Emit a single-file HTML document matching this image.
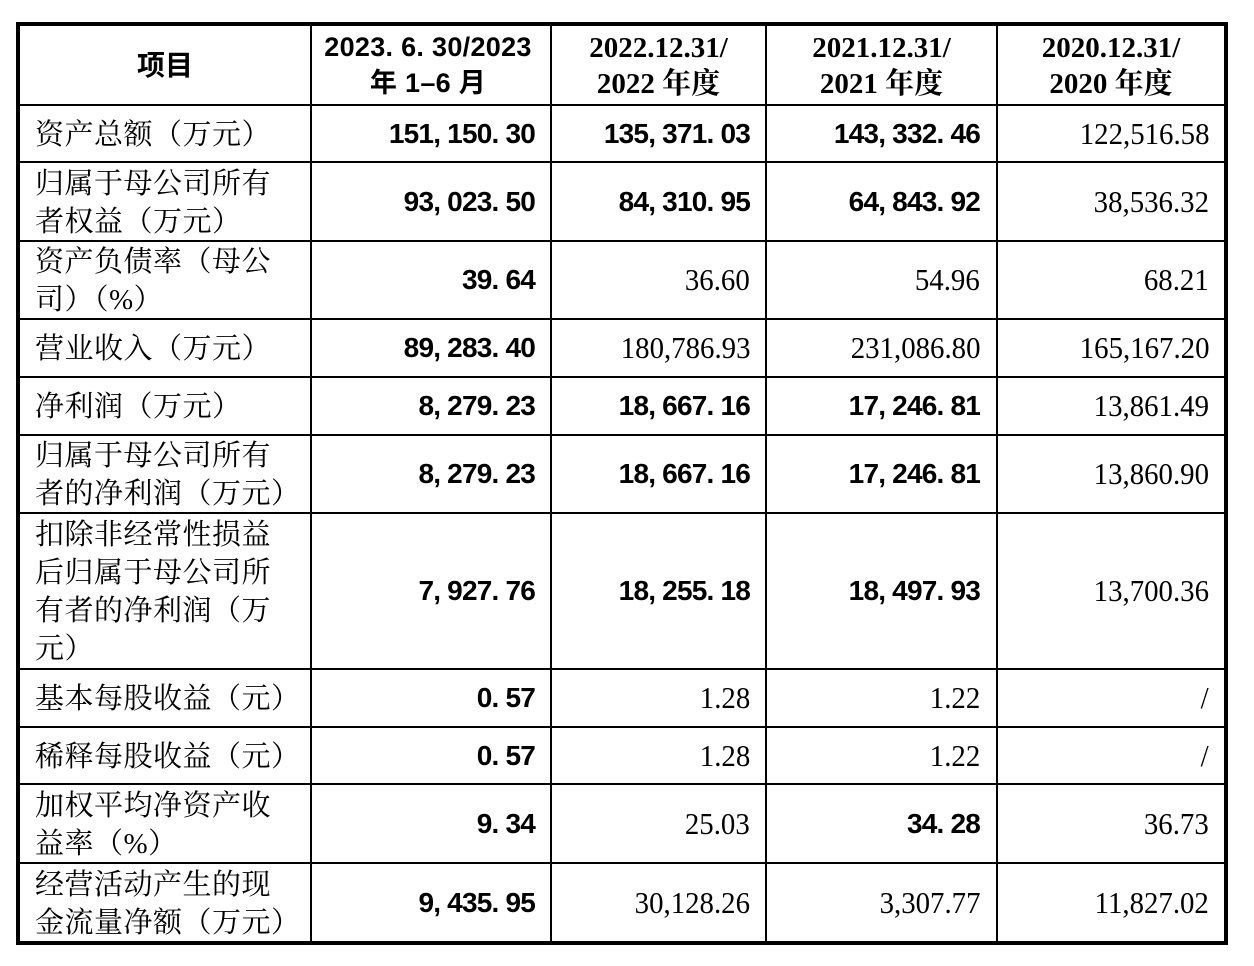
<!DOCTYPE html>
<html><head><meta charset="utf-8">
<style>
html,body{margin:0;padding:0;background:#fff;}
body{width:1254px;height:966px;position:relative;overflow:hidden;}
.ln{position:absolute;background:#000;}
.c{position:absolute;display:flex;align-items:center;box-sizing:border-box;color:#000;}
.lab{font-family:"Liberation Serif","Noto Serif CJK SC",serif;font-size:29px;letter-spacing:0.5px;line-height:38px;padding-left:15px;white-space:nowrap;}
.lab span{position:relative;top:1px;}
.nb{justify-content:flex-end;font-family:"Liberation Sans","Noto Sans CJK SC",sans-serif;font-weight:bold;font-size:28px;letter-spacing:-0.8px;white-space:pre;}
.ns{justify-content:flex-end;font-family:"Liberation Serif","Noto Serif CJK SC",serif;font-size:31px;white-space:pre;}
.ns span{display:inline-block;transform:scaleX(0.93);transform-origin:right center;}
.hd{justify-content:center;text-align:center;font-family:"Liberation Serif","Noto Serif CJK SC",serif;font-weight:bold;font-size:29px;line-height:36px;white-space:nowrap;}
.hs{justify-content:center;text-align:center;font-family:"Liberation Sans","Noto Sans CJK SC",sans-serif;font-weight:bold;font-size:27px;letter-spacing:0.3px;line-height:36px;white-space:pre;}
</style></head><body>

<div style="position:absolute;left:16px;top:22px;width:1212px;height:923px;border:4px solid #000;box-sizing:border-box;"></div>
<div class="ln" style="left:310px;top:24px;width:2px;height:919px;"></div>
<div class="ln" style="left:550px;top:24px;width:2px;height:919px;"></div>
<div class="ln" style="left:765px;top:24px;width:2px;height:919px;"></div>
<div class="ln" style="left:996px;top:24px;width:2px;height:919px;"></div>
<div class="ln" style="left:18px;top:104px;width:1208px;height:2px;"></div>
<div class="ln" style="left:18px;top:161px;width:1208px;height:2px;"></div>
<div class="ln" style="left:18px;top:240px;width:1208px;height:2px;"></div>
<div class="ln" style="left:18px;top:318px;width:1208px;height:2px;"></div>
<div class="ln" style="left:18px;top:376px;width:1208px;height:2px;"></div>
<div class="ln" style="left:18px;top:434px;width:1208px;height:2px;"></div>
<div class="ln" style="left:18px;top:512px;width:1208px;height:2px;"></div>
<div class="ln" style="left:18px;top:668px;width:1208px;height:2px;"></div>
<div class="ln" style="left:18px;top:726px;width:1208px;height:2px;"></div>
<div class="ln" style="left:18px;top:783px;width:1208px;height:2px;"></div>
<div class="ln" style="left:18px;top:862px;width:1208px;height:2px;"></div>

<div class="c" style="left:20px;top:26px;width:290px;height:78px;justify-content:center;font-family:'Noto Sans CJK SC',sans-serif;font-weight:bold;font-size:28px;"><span style="position:relative;top:-1px;">项目</span></div>
<div class="c hs" style="left:312px;top:26px;width:238px;height:78px;"><div style="position:relative;left:-3px;top:0px;">2023. 6. 30/2023<br>年 1–6 月</div></div>
<div class="c hd" style="left:552px;top:26px;width:213px;height:78px;"><div style="position:relative;top:1px;">2022.12.31/<br>2022 年度</div></div>
<div class="c hd" style="left:767px;top:26px;width:229px;height:78px;"><div style="position:relative;top:1px;">2021.12.31/<br>2021 年度</div></div>
<div class="c hd" style="left:998px;top:26px;width:226px;height:78px;"><div style="position:relative;top:1px;">2020.12.31/<br>2020 年度</div></div>

<div class="c lab" style="left:20px;top:106px;width:290px;height:55px;"><span>资产总额（万元）</span></div>
<div class="c nb" style="left:312px;top:106px;width:238px;height:55px;padding-right:15px;">151, 150. 30</div>
<div class="c nb" style="left:552px;top:106px;width:213px;height:55px;padding-right:15px;">135, 371. 03</div>
<div class="c nb" style="left:767px;top:106px;width:229px;height:55px;padding-right:16px;">143, 332. 46</div>
<div class="c ns" style="left:998px;top:106px;width:226px;height:55px;padding-right:15px;"><span>122,516.58</span></div>

<div class="c lab" style="left:20px;top:163px;width:290px;height:77px;"><span>归属于母公司所有<br>者权益（万元）</span></div>
<div class="c nb" style="left:312px;top:163px;width:238px;height:77px;padding-right:15px;">93, 023. 50</div>
<div class="c nb" style="left:552px;top:163px;width:213px;height:77px;padding-right:15px;">84, 310. 95</div>
<div class="c nb" style="left:767px;top:163px;width:229px;height:77px;padding-right:16px;">64, 843. 92</div>
<div class="c ns" style="left:998px;top:163px;width:226px;height:77px;padding-right:15px;"><span>38,536.32</span></div>

<div class="c lab" style="left:20px;top:242px;width:290px;height:76px;"><span>资产负债率（母公<br>司）（%）</span></div>
<div class="c nb" style="left:312px;top:242px;width:238px;height:76px;padding-right:15px;">39. 64</div>
<div class="c ns" style="left:552px;top:242px;width:213px;height:76px;padding-right:15px;"><span>36.60</span></div>
<div class="c ns" style="left:767px;top:242px;width:229px;height:76px;padding-right:16px;"><span>54.96</span></div>
<div class="c ns" style="left:998px;top:242px;width:226px;height:76px;padding-right:15px;"><span>68.21</span></div>

<div class="c lab" style="left:20px;top:320px;width:290px;height:56px;"><span>营业收入（万元）</span></div>
<div class="c nb" style="left:312px;top:320px;width:238px;height:56px;padding-right:15px;">89, 283. 40</div>
<div class="c ns" style="left:552px;top:320px;width:213px;height:56px;padding-right:15px;"><span>180,786.93</span></div>
<div class="c ns" style="left:767px;top:320px;width:229px;height:56px;padding-right:16px;"><span>231,086.80</span></div>
<div class="c ns" style="left:998px;top:320px;width:226px;height:56px;padding-right:15px;"><span>165,167.20</span></div>

<div class="c lab" style="left:20px;top:378px;width:290px;height:56px;"><span>净利润（万元）</span></div>
<div class="c nb" style="left:312px;top:378px;width:238px;height:56px;padding-right:15px;">8, 279. 23</div>
<div class="c nb" style="left:552px;top:378px;width:213px;height:56px;padding-right:15px;">18, 667. 16</div>
<div class="c nb" style="left:767px;top:378px;width:229px;height:56px;padding-right:16px;">17, 246. 81</div>
<div class="c ns" style="left:998px;top:378px;width:226px;height:56px;padding-right:15px;"><span>13,861.49</span></div>

<div class="c lab" style="left:20px;top:436px;width:290px;height:76px;"><span>归属于母公司所有<br>者的净利润（万元）</span></div>
<div class="c nb" style="left:312px;top:436px;width:238px;height:76px;padding-right:15px;">8, 279. 23</div>
<div class="c nb" style="left:552px;top:436px;width:213px;height:76px;padding-right:15px;">18, 667. 16</div>
<div class="c nb" style="left:767px;top:436px;width:229px;height:76px;padding-right:16px;">17, 246. 81</div>
<div class="c ns" style="left:998px;top:436px;width:226px;height:76px;padding-right:15px;"><span>13,860.90</span></div>

<div class="c lab" style="left:20px;top:514px;width:290px;height:154px;"><span>扣除非经常性损益<br>后归属于母公司所<br>有者的净利润（万<br>元）</span></div>
<div class="c nb" style="left:312px;top:514px;width:238px;height:154px;padding-right:15px;">7, 927. 76</div>
<div class="c nb" style="left:552px;top:514px;width:213px;height:154px;padding-right:15px;">18, 255. 18</div>
<div class="c nb" style="left:767px;top:514px;width:229px;height:154px;padding-right:16px;">18, 497. 93</div>
<div class="c ns" style="left:998px;top:514px;width:226px;height:154px;padding-right:15px;"><span>13,700.36</span></div>

<div class="c lab" style="left:20px;top:670px;width:290px;height:56px;"><span>基本每股收益（元）</span></div>
<div class="c nb" style="left:312px;top:670px;width:238px;height:56px;padding-right:15px;">0. 57</div>
<div class="c ns" style="left:552px;top:670px;width:213px;height:56px;padding-right:15px;"><span>1.28</span></div>
<div class="c ns" style="left:767px;top:670px;width:229px;height:56px;padding-right:16px;"><span>1.22</span></div>
<div class="c ns" style="left:998px;top:670px;width:226px;height:56px;padding-right:15px;"><span>/</span></div>

<div class="c lab" style="left:20px;top:728px;width:290px;height:55px;"><span>稀释每股收益（元）</span></div>
<div class="c nb" style="left:312px;top:728px;width:238px;height:55px;padding-right:15px;">0. 57</div>
<div class="c ns" style="left:552px;top:728px;width:213px;height:55px;padding-right:15px;"><span>1.28</span></div>
<div class="c ns" style="left:767px;top:728px;width:229px;height:55px;padding-right:16px;"><span>1.22</span></div>
<div class="c ns" style="left:998px;top:728px;width:226px;height:55px;padding-right:15px;"><span>/</span></div>

<div class="c lab" style="left:20px;top:785px;width:290px;height:77px;"><span>加权平均净资产收<br>益率（%）</span></div>
<div class="c nb" style="left:312px;top:785px;width:238px;height:77px;padding-right:15px;">9. 34</div>
<div class="c ns" style="left:552px;top:785px;width:213px;height:77px;padding-right:15px;"><span>25.03</span></div>
<div class="c nb" style="left:767px;top:785px;width:229px;height:77px;padding-right:16px;">34. 28</div>
<div class="c ns" style="left:998px;top:785px;width:226px;height:77px;padding-right:15px;"><span>36.73</span></div>

<div class="c lab" style="left:20px;top:864px;width:290px;height:77px;"><span>经营活动产生的现<br>金流量净额（万元）</span></div>
<div class="c nb" style="left:312px;top:864px;width:238px;height:77px;padding-right:15px;">9, 435. 95</div>
<div class="c ns" style="left:552px;top:864px;width:213px;height:77px;padding-right:15px;"><span>30,128.26</span></div>
<div class="c ns" style="left:767px;top:864px;width:229px;height:77px;padding-right:16px;"><span>3,307.77</span></div>
<div class="c ns" style="left:998px;top:864px;width:226px;height:77px;padding-right:15px;"><span>11,827.02</span></div>

</body></html>
